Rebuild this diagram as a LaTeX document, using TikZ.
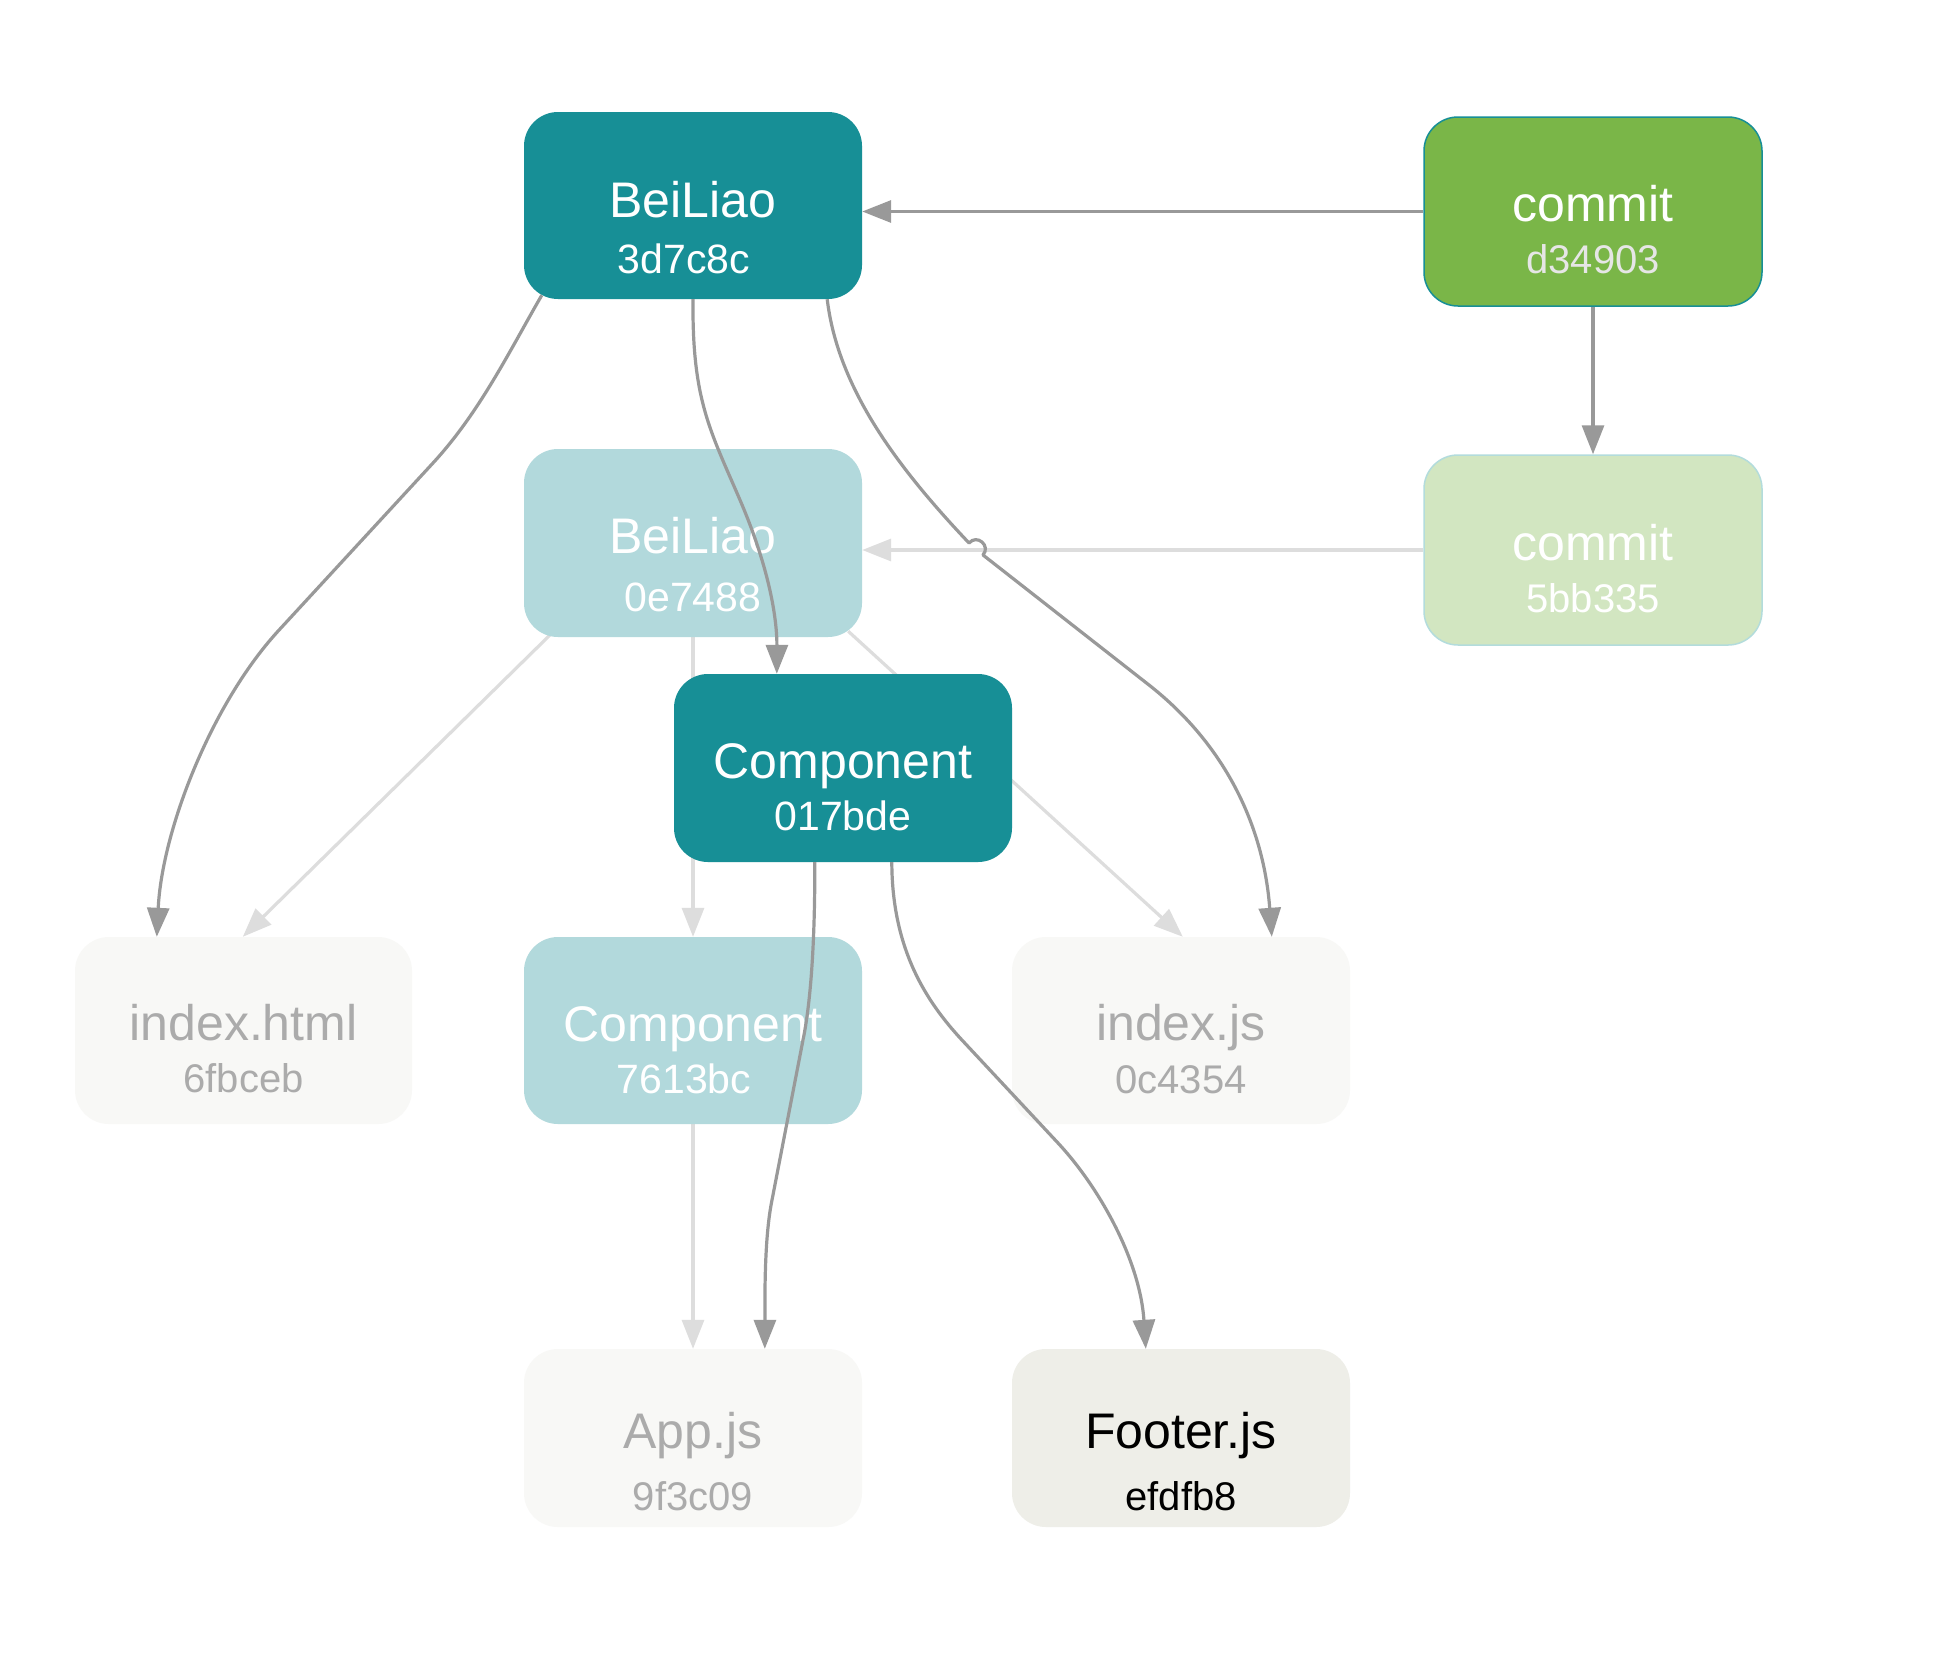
\documentclass[tikz,border=0pt]{standalone}
\usepackage{fontspec}
\setmainfont{Liberation Sans}
\usetikzlibrary{arrows.meta,calc}
\definecolor{tealdark}{HTML}{178F96}
\definecolor{teallight}{HTML}{B2D9DC}
\definecolor{greendark}{HTML}{7AB648}
\definecolor{greenlight}{HTML}{D2E6C1}
\definecolor{greenborder}{HTML}{B3DCDC}
\definecolor{filefill}{HTML}{F8F8F6}
\definecolor{filetext}{HTML}{ABABAB}
\definecolor{footerfill}{HTML}{EEEEE8}
\definecolor{hashgray}{HTML}{E6E6E6}
\definecolor{edgedark}{HTML}{999999}
\definecolor{edgelight}{HTML}{DDDDDD}
\pgfdeclarelayer{bg}
\pgfsetlayers{bg,main}
\tikzset{
  card/.style={rectangle, rounded corners=34pt, minimum width=338pt, minimum height=187pt, inner sep=0pt},
  ttl/.style={anchor=base, inner sep=0pt, font=\fontsize{50}{50}\selectfont},
  hsh/.style={anchor=base, inner sep=0pt, font=\fontsize{41}{42}\selectfont},
  hshs/.style={anchor=base, inner sep=0pt, font=\fontsize{40}{42}\selectfont},
  darkedge/.style={draw=edgedark, line width=3.2pt, line join=round, -{Triangle[length=29pt,width=22pt]}},
  lightedge/.style={draw=edgelight, line width=3.2pt, -{Triangle[length=29pt,width=22pt]}},
}
\begin{document}
\begin{tikzpicture}[x=1pt, y=-1pt]
\useasboundingbox (0,0) rectangle (1950,1676);
\begin{pgfonlayer}{bg}
\fill[white] (0,0) rectangle (1950,1676);
\end{pgfonlayer}

% boxes
\node[card, fill=tealdark] (b1) at (693,205.5) {};
\node[card, fill=greendark, draw=tealdark, line width=1.5pt, minimum height=189pt] (c1) at (1593,211.5) {};
\node[card, fill=teallight, minimum height=188pt] (b2) at (693,543) {};
\node[card, fill=greenlight, draw=greenborder, line width=1.5pt, minimum height=190pt] (c2) at (1593,550) {};
\node[card, fill=tealdark, minimum height=188pt] (k1) at (843,768) {};
\node[card, fill=filefill, minimum width=337pt] (f1) at (243.5,1030.5) {};
\node[card, fill=teallight] (k2) at (693,1030.5) {};
\node[card, fill=filefill] (f2) at (1181,1030.5) {};
\node[card, fill=filefill, minimum height=178pt] (f3) at (693,1438) {};
\node[card, fill=footerfill, minimum height=178pt] (f4) at (1181,1438) {};

% texts
\node[ttl, white] (b1t) at ($(b1.center)+(0,11.5)$) {BeiLiao};
\node[hsh, white] (b1h) at ($(b1.center)+(-9,67.5)$) {3d7c8c};
\node[ttl, white] (c1t) at ($(c1.center)+(0,10)$) {commit};
\node[hshs, hashgray] (c1h) at ($(c1.center)+(0,62)$) {d34903};
\node[ttl, white] (b2t) at ($(b2.center)+(0,10)$) {BeiLiao};
\node[hsh, white] (b2h) at ($(b2.center)+(0,68)$) {0e7488};
\node[ttl, white] (c2t) at ($(c2.center)+(0,10.5)$) {commit};
\node[hshs, white] (c2h) at ($(c2.center)+(0,62.5)$) {5bb335};
\node[ttl, white] (k1t) at ($(k1.center)+(0,10)$) {Component};
\node[hsh, white] (k1h) at ($(k1.center)+(0,62)$) {017bde};
\node[ttl, filetext] (f1t) at ($(f1.center)+(0,9.5)$) {index.html};
\node[hshs, filetext] (f1h) at ($(f1.center)+(0,61.5)$) {6fbceb};
\node[ttl, white] (k2t) at ($(k2.center)+(0,11)$) {Component};
\node[hsh, white] (k2h) at ($(k2.center)+(-9,63)$) {7613bc};
\node[ttl, filetext] (f2t) at ($(f2.center)+(0,9.5)$) {index.js};
\node[hshs, filetext] (f2h) at ($(f2.center)+(0,62.5)$) {0c4354};
\node[ttl, filetext] (f3t) at ($(f3.center)+(0,10)$) {App.js};
\node[hshs, filetext] (f3h) at ($(f3.center)+(0,72)$) {9f3c09};
\node[ttl, black] (f4t) at ($(f4.center)+(0,10)$) {Footer.js};
\node[hshs, black] (f4h) at ($(f4.center)+(0,72)$) {efdfb8};

% light connectors (behind the boxes)
\begin{pgfonlayer}{bg}
\draw[lightedge] (c2.west) -- (c2.west -| b2.east);
\draw[lightedge] ($(b2.south west)+(28,-4)$) -- ($(f1.north west)+(168,0)$);
\draw[lightedge] (b2.south) -- (k2.north);
\draw[lightedge] ($(b2.south east)+(-14,-6)$) -- ($(f2.north west)+(171,0)$);
\draw[lightedge] (k2.south) -- (f3.north);
\end{pgfonlayer}

% dark connectors (over the boxes)
\draw[darkedge] (c1.west) -- (c1.west -| b1.east);
\draw[darkedge] (c1.south) -- (c2.north);
\draw[darkedge] ($(b1.south west)+(18,-4)$) .. controls (510,350) and (480,412) .. (433,463)
   -- (280,629) .. controls (212,702) and (162,830) .. ($(f1.north west)+(82,0)$);
\draw[darkedge] (b1.south) .. controls (692,400) and (710,430) .. (740,500)
   .. controls (770,570) and (777,620) .. ($(k1.north west)+(103,0)$);
\draw[darkedge] ($(b1.south east)+(-35,0)$) .. controls (838,390) and (900,470) .. (969,543)
   .. controls (977,533.7) and (991,545.7) .. (983,555)
   -- (1149,685) .. controls (1228,747) and (1264,830) .. ($(f2.north west)+(260,0)$);
\draw[darkedge] ($(k1.south west)+(141,0)$) .. controls (815,940) and (811,1001) .. (803,1040)
   -- (772,1200) .. controls (764,1239) and (765,1300) .. ($(f3.north west)+(241,0)$);
\draw[darkedge] ($(k1.south west)+(218,0)$) .. controls (892,950) and (927,1002) .. (961,1039)
   -- (1058,1143) .. controls (1099,1187) and (1140,1260) .. ($(f4.north west)+(134,0)$);
\end{tikzpicture}
\end{document}
